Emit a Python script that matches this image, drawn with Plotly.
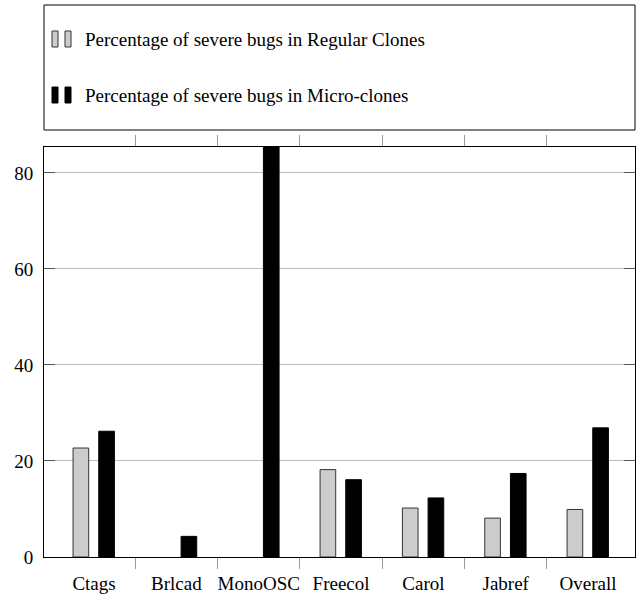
import plotly.graph_objects as go

# Severe-bug percentages per subject system
categories = ["Ctags", "Brlcad", "MonoOSC", "Freecol", "Carol", "Jabref", "Overall"]
regular_clones = [22.7, 0, 0, 18.2, 10.2, 8.1, 9.9]
micro_clones = [26.2, 4.3, 100, 16.1, 12.3, 17.4, 26.9]
y_ticks = [0, 20, 40, 60, 80]
series_names = [
    "Percentage of severe bugs in Regular Clones",
    "Percentage of severe bugs in Micro-clones",
]

W, H = 642, 597
ML, MR, MT, MB = 44, 7, 147, 40
PW, PH = W - ML - MR, H - MT - MB

FONT = "Liberation Serif, Times New Roman, serif"
xs = list(range(len(categories)))


def outline_widths(values):
    # empty bars get no outline so nothing sticks above the axis
    return [1 if v else 0 for v in values]


fig = go.Figure()
fig.add_trace(go.Bar(
    x=xs, y=regular_clones, name=series_names[0],
    width=0.19, offset=-0.255,
    marker=dict(color="#cccccc",
                line=dict(color="#333333", width=outline_widths(regular_clones))),
    showlegend=False,
))
fig.add_trace(go.Bar(
    x=xs, y=micro_clones, name=series_names[1],
    width=0.19, offset=0.057,
    marker=dict(color="#000000",
                line=dict(color="#000000", width=outline_widths(micro_clones))),
    showlegend=False,
))


def px_x(p):
    return (p - ML) / PW


def px_y(p):
    return (H - MB - p) / PH


shapes = [
    # legend frame
    dict(type="rect", xref="paper", yref="paper",
         x0=0, x1=1, y0=px_y(130), y1=px_y(5),
         line=dict(color="#000000", width=1), fillcolor="white", layer="above"),
]
annotations = []
legend_rows = [
    (39, "#cccccc", "#333333", series_names[0]),
    (95, "#000000", "#000000", series_names[1]),
]
for cy, fill, edge, label in legend_rows:
    for x0 in (52, 65):
        shapes.append(dict(type="rect", xref="paper", yref="paper",
                           x0=px_x(x0), x1=px_x(x0 + 6),
                           y0=px_y(cy + 8), y1=px_y(cy - 8),
                           line=dict(color=edge, width=1), fillcolor=fill,
                           layer="above"))
    annotations.append(dict(xref="paper", yref="paper",
                            x=px_x(83), y=px_y(cy), xanchor="left", yanchor="middle",
                            text=label, showarrow=False,
                            font=dict(family=FONT, size=19, color="#000000")))

fig.update_layout(
    width=W, height=H,
    margin=dict(l=ML, r=MR, t=MT, b=MB),
    paper_bgcolor="white", plot_bgcolor="white",
    barmode="overlay",
    font=dict(family=FONT, size=19, color="#000000"),
    shapes=shapes, annotations=annotations,
    showlegend=False,
)
fig.update_xaxes(
    range=[-0.608, 6.57], automargin=False,
    tickmode="array", tickvals=xs, ticktext=categories,
    ticks="", showgrid=False, zeroline=False,
    showline=True, linecolor="#000000", linewidth=1, mirror="ticks",
    minor=dict(tickmode="array", tickvals=[i + 0.5 for i in xs[:-1]],
               ticks="outside", ticklen=11, tickcolor="#999999", tickwidth=1,
               showgrid=False),
    ticklabelstandoff=9,
    tickfont=dict(family=FONT, size=19),
)
fig.update_yaxes(
    range=[0, 85.4], automargin=False,
    tickmode="array", tickvals=y_ticks,
    ticks="inside", ticklen=11, tickcolor="#555555", tickwidth=1,
    showgrid=True, gridcolor="#bbbbbb", gridwidth=1, zeroline=False,
    showline=True, linecolor="#000000", linewidth=1, mirror="ticks",
    ticklabelstandoff=6,
    tickfont=dict(family=FONT, size=19),
)

fig.write_html("out.html")
